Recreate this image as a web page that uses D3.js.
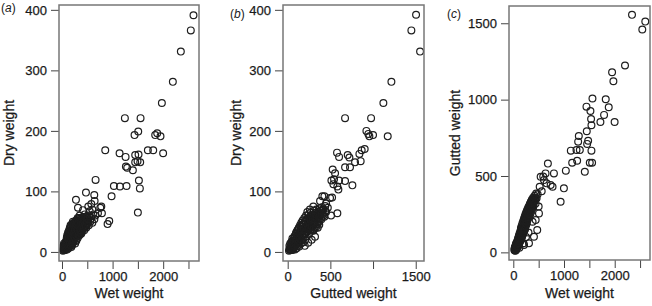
<!DOCTYPE html>
<html>
<head>
<meta charset="utf-8">
<title>Dry, gutted and wet weight</title>
<script src="https://d3js.org/d3.v7.min.js"></script>
<style>
    body {
        margin: 0;
        background: #fff;
        font-family: "Liberation Sans", Arial, sans-serif;
    }
    .tick line { stroke: #444; }
    .tick text { font-size: 13px; fill: #1a1a1a; stroke: #1a1a1a; stroke-width: 0.25; }
    .box { fill: none; stroke: #777; stroke-width: 1.5; }
    .pt { fill: none; stroke: #1e1e1e; stroke-width: 1.2; }
    .axis-title { font-size: 14px; fill: #1a1a1a; stroke: #1a1a1a; stroke-width: 0.25; }
    .panel-tag { font-size: 12px; fill: #1a1a1a; }
</style>
</head>
<body>
<div id="chart"></div>
<script>
// (a) wet weight vs dry weight
const wetDry = [
    [2599,391],[2546,366],[2349,331],[2191,281],[1974,246],[1243,221],[1553,221],[1507,199],
    [1434,193],[1842,193],[1882,196],[1947,191],[855,168],[1138,163],[1257,157],[1447,160],
    [1513,161],[1697,168],[1803,168],[1999,163],[1263,141],[1289,139],[1401,135],[1447,148],
    [1546,148],[1493,150],[1520,118],[1539,105],[664,119],[1026,109],[1145,108],[1276,109],
    [980,92],[1500,65],[474,98],[276,86],[638,94],[645,84],[757,73],[789,64],[934,51],[901,46],
    [777,75],[580,79],[547,67],[415,69],[316,73],[711,64],[350,60],[600,70],[520,75],[450,62],
    [20,2],[25,5],[30,3],[35,8],[40,4],[45,10],[50,6],[55,3],[60,12],[65,8],[70,5],[75,15],
    [80,10],[85,7],[90,18],[95,13],[100,4],[100,22],[105,9],[110,16],[115,26],[120,11],[125,20],
    [130,6],[130,30],[135,14],[140,24],[145,34],[150,9],[150,18],[155,28],[160,38],[165,13],
    [170,22],[175,32],[180,42],[185,8],[185,17],[190,27],[195,36],[200,46],[205,12],[210,21],
    [215,31],[220,40],[225,16],[230,26],[235,48],[240,35],[245,20],[250,30],[255,44],[260,14],
    [265,38],[270,25],[275,52],[280,33],[285,19],[290,42],[295,28],[300,48],[305,36],[310,23],
    [315,54],[320,31],[325,44],[330,39],[340,27],[345,50],[350,35],[355,46],[360,30],[370,41],
    [375,56],[380,37],[390,48],[395,33],[400,44],[410,52],[420,39],[430,47],[440,36],[450,55],
    [460,43],[470,50],[480,40],[490,58],[500,46],[510,52],[530,44],[540,60],[560,50],[580,56],
    [600,48],[620,62],[640,54],[660,60],
    [30,10],[40,14],[50,12],[60,3],[70,14],[80,18],[90,8],[95,24],[105,28],[110,6],[120,32],
    [125,10],[135,22],[140,36],[145,12],[155,40],[160,16],[165,30],[170,44],[175,10],[180,24],
    [190,34],[195,14],[200,24],[205,40],[210,16],[215,50],[220,28],[225,44],[230,18],[240,46],
    [245,30],[250,38],[255,22],[260,50],[265,28],[270,44],[275,18],[280,46],[285,38],[290,26],
    [295,50],[300,30],[305,44],[310,56],[315,34],[320,48],[330,28],[335,56],[340,42],[350,52],
    [360,44],[365,36],[370,50],[380,30],[385,54],[390,40],[400,50],[405,38],[410,46],[420,56],
    [430,40],[440,52],[450,45],[460,52],[470,42],[480,56],[490,48],[500,54],[520,48],[550,58]
];

// (b) gutted weight vs dry weight
const gutDry = [
    [1504,392],[1449,366],[1551,331],[1215,281],[1121,246],[672,221],[977,221],[1172,191],
    [922,200],[945,195],[1000,193],[957,191],[902,170],[867,168],[840,162],[703,160],[723,156],
    [578,164],[602,157],[672,140],[730,140],[789,148],[855,150],[527,136],[555,130],[543,120],
    [512,118],[602,118],[582,108],[535,112],[672,117],[758,110],[594,103],[406,92],[430,92],
    [496,89],[508,60],[582,64],[379,84],[320,25],[281,20],[352,40],[300,35],[240,15],[200,10],
    [370,45],[300,75],[260,70],[230,66],[450,80],[470,73],[520,90],
    [15,2],[20,5],[25,3],[30,8],[35,4],[40,11],[45,6],[50,3],[50,15],[55,9],[60,5],[60,19],
    [65,12],[70,7],[75,23],[80,15],[85,4],[85,10],[90,27],[95,18],[100,12],[100,32],[105,6],
    [110,22],[115,36],[120,15],[125,27],[130,40],[135,9],[135,19],[140,32],[145,44],[150,24],
    [155,14],[155,37],[160,48],[165,29],[170,19],[170,42],[175,52],[180,34],[185,24],[190,46],
    [195,56],[200,38],[205,29],[210,51],[215,60],[220,42],[225,33],[230,55],[235,47],[240,37],
    [245,62],[250,50],[255,42],[260,58],[265,46],[270,65],[275,38],[280,54],[285,48],[290,62],
    [295,44],[300,56],[305,68],[310,50],[315,40],[320,60],[330,53],[335,70],[340,46],[345,63],
    [350,56],[360,66],[365,50],[370,72],[380,60],[390,68],[395,54],[400,74],[410,62],[420,70],
    [430,58],[440,76],[450,66],
    [20,10],[30,14],[40,3],[45,17],[55,22],[65,4],[70,18],[75,10],[80,26],[90,14],[95,30],
    [105,20],[110,34],[115,10],[120,26],[125,38],[130,18],[140,22],[145,30],[150,42],[160,20],
    [165,36],[175,28],[180,46],[185,16],[190,38],[195,30],[200,50],[205,20],[210,42],[215,34],
    [220,54],[225,26],[230,46],[240,52],[245,40],[250,30],[255,56],[260,44],[265,36],[270,52],
    [280,42],[285,60],[290,36],[295,54],[300,46],[305,38],[310,62],[320,48],[325,58],[330,40],
    [340,56],[350,46],[355,64],[360,52],[370,58],[380,68],[390,56],[400,64],[410,70],[420,60],
    [440,68]
];

// (c) wet weight vs gutted weight
const wetGut = [
    [2341,1555],[2603,1511],[2544,1459],[2203,1223],[1948,1179],[1974,1120],[1823,1002],
    [1561,1007],[1443,954],[1521,926],[1882,950],[1790,900],[1718,854],[1998,854],[1534,873],
    [1541,832],[1449,793],[1292,762],[1279,725],[1476,731],[1456,710],[1246,670],[1312,670],
    [1134,666],[1541,666],[1161,587],[1259,600],[1554,587],[1508,587],[1410,528],[1036,535],
    [682,581],[801,517],[774,430],[998,419],[933,331],[736,441],[604,473],[539,495],[636,517],
    [590,496],[656,452],[441,354],[506,255],[441,212],[472,146],[407,102],[309,59],[211,48],
    [560,400],[520,430],[480,380],[500,300],[380,200],[300,130],[250,100],[200,60],[120,30],
    [20,15],[25,25],[30,12],[35,35],[40,20],[45,45],[50,28],[55,15],[55,58],[60,38],[65,25],
    [70,68],[75,48],[80,32],[85,80],[90,58],[95,40],[100,95],[100,70],[105,50],[110,110],
    [115,82],[120,62],[125,125],[130,95],[135,72],[140,140],[145,108],[150,82],[150,160],
    [155,125],[160,95],[165,175],[170,140],[175,108],[180,190],[185,155],[190,120],[195,205],
    [200,170],[205,135],[210,220],[215,185],[220,150],[225,235],[230,200],[235,165],[240,250],
    [245,215],[250,180],[255,262],[260,230],[265,195],[270,275],[275,245],[280,210],[290,290],
    [295,258],[300,225],[305,300],[310,272],[320,240],[325,315],[330,285],[340,255],[345,330],
    [350,300],[360,270],[365,345],[370,315],[380,290],[390,358],[395,330],[400,305],[420,370],
    [425,340],[440,320],[450,385],[460,355],
    [30,30],[40,10],[45,30],[50,50],[60,20],[65,50],[70,35],[80,55],[85,40],[90,75],[95,90],
    [105,75],[110,60],[115,100],[120,85],[125,70],[130,115],[135,100],[140,85],[145,130],
    [155,110],[160,140],[165,120],[170,100],[175,160],[180,130],[185,115],[190,170],[195,145],
    [200,130],[205,190],[210,160],[215,145],[220,200],[225,170],[230,150],[235,220],[240,190],
    [245,175],[250,240],[255,205],[260,185],[265,255],[270,220],[280,240],[285,270],[290,230],
    [300,260],[310,290],[315,250],[320,300],[330,270],[335,320],[340,290],[350,330],[355,280],
    [360,310],[370,340],[380,320],[390,300],[400,350],[410,330],[430,360],[440,350]
];

const wetTicks = [0, 500, 1000, 1500, 2000, 2500];
const wetTickLabels = [0, 1000, 2000];
const gutTicksB = [0, 500, 1000, 1500];
const gutTickLabelsB = [0, 500, 1500];
const dryTicks = [0, 100, 200, 300, 400];
const gutTicksC = [0, 500, 1000, 1500];

const panels = [
    { tag: "a", data: wetDry, xTitle: "Wet weight", yTitle: "Dry weight",
      left: 59, right: 199, top: 5, bottom: 261, xDom: [-59, 2708], yDom: [-15, 408],
      xTicks: wetTicks, xLabels: wetTickLabels, yTicks: dryTicks,
      yTitleX: 14, tagX: 1, tagY: 12 },
    { tag: "b", data: gutDry, xTitle: "Gutted weight", yTitle: "Dry weight",
      left: 283, right: 424, top: 5, bottom: 261, xDom: [-55, 1597], yDom: [-15, 408],
      xTicks: gutTicksB, xLabels: gutTickLabelsB, yTicks: dryTicks,
      yTitleX: 241, tagX: 230, tagY: 18 },
    { tag: "c", data: wetGut, xTitle: "Wet weight", yTitle: "Gutted weight",
      left: 509, right: 650, top: 6, bottom: 260, xDom: [-85, 2696], yDom: [-50, 1613],
      xTicks: wetTicks, xLabels: wetTickLabels, yTicks: gutTicksC,
      yTitleX: 460, tagX: 447, tagY: 18 }
];

const svg = d3.select("#chart")
    .append("svg")
    .attr("width", 652)
    .attr("height", 306);

panels.forEach(p => {
    const x = d3.scaleLinear().domain(p.xDom).range([p.left, p.right]);
    const y = d3.scaleLinear().domain(p.yDom).range([p.bottom, p.top]);
    const g = svg.append("g");

    // points first, box drawn on top like R does
    g.selectAll("circle")
        .data(p.data)
        .enter()
        .append("circle")
        .attr("class", "pt")
        .attr("cx", d => x(d[0]))
        .attr("cy", d => y(d[1]))
        .attr("r", 3.4);

    const xAxis = g.append("g")
        .attr("transform", `translate(0,${p.bottom})`)
        .call(d3.axisBottom(x)
            .tickValues(p.xTicks)
            .tickSize(8)
            .tickPadding(3)
            .tickFormat(d => p.xLabels.includes(d) ? String(d) : ""));
    xAxis.select(".domain").remove();
    xAxis.selectAll("text").attr("font-family", null);

    const yAxis = g.append("g")
        .attr("transform", `translate(${p.left},0)`)
        .call(d3.axisLeft(y)
            .tickValues(p.yTicks)
            .tickSize(8)
            .tickPadding(4)
            .tickFormat(d => String(d)));
    yAxis.select(".domain").remove();
    yAxis.selectAll("text").attr("font-family", null);

    g.append("rect")
        .attr("class", "box")
        .attr("x", p.left)
        .attr("y", p.top)
        .attr("width", p.right - p.left)
        .attr("height", p.bottom - p.top);

    g.append("text")
        .attr("class", "axis-title")
        .attr("x", (p.left + p.right) / 2)
        .attr("y", 298)
        .attr("text-anchor", "middle")
        .text(p.xTitle);

    g.append("text")
        .attr("class", "axis-title")
        .attr("transform", `translate(${p.yTitleX},${(p.top + p.bottom) / 2}) rotate(-90)`)
        .attr("text-anchor", "middle")
        .text(p.yTitle);

    const tag = g.append("text")
        .attr("class", "panel-tag")
        .attr("x", p.tagX)
        .attr("y", p.tagY);
    tag.append("tspan").text("(");
    tag.append("tspan").attr("font-style", "italic").text(p.tag);
    tag.append("tspan").text(")");
});
</script>
</body>
</html>
